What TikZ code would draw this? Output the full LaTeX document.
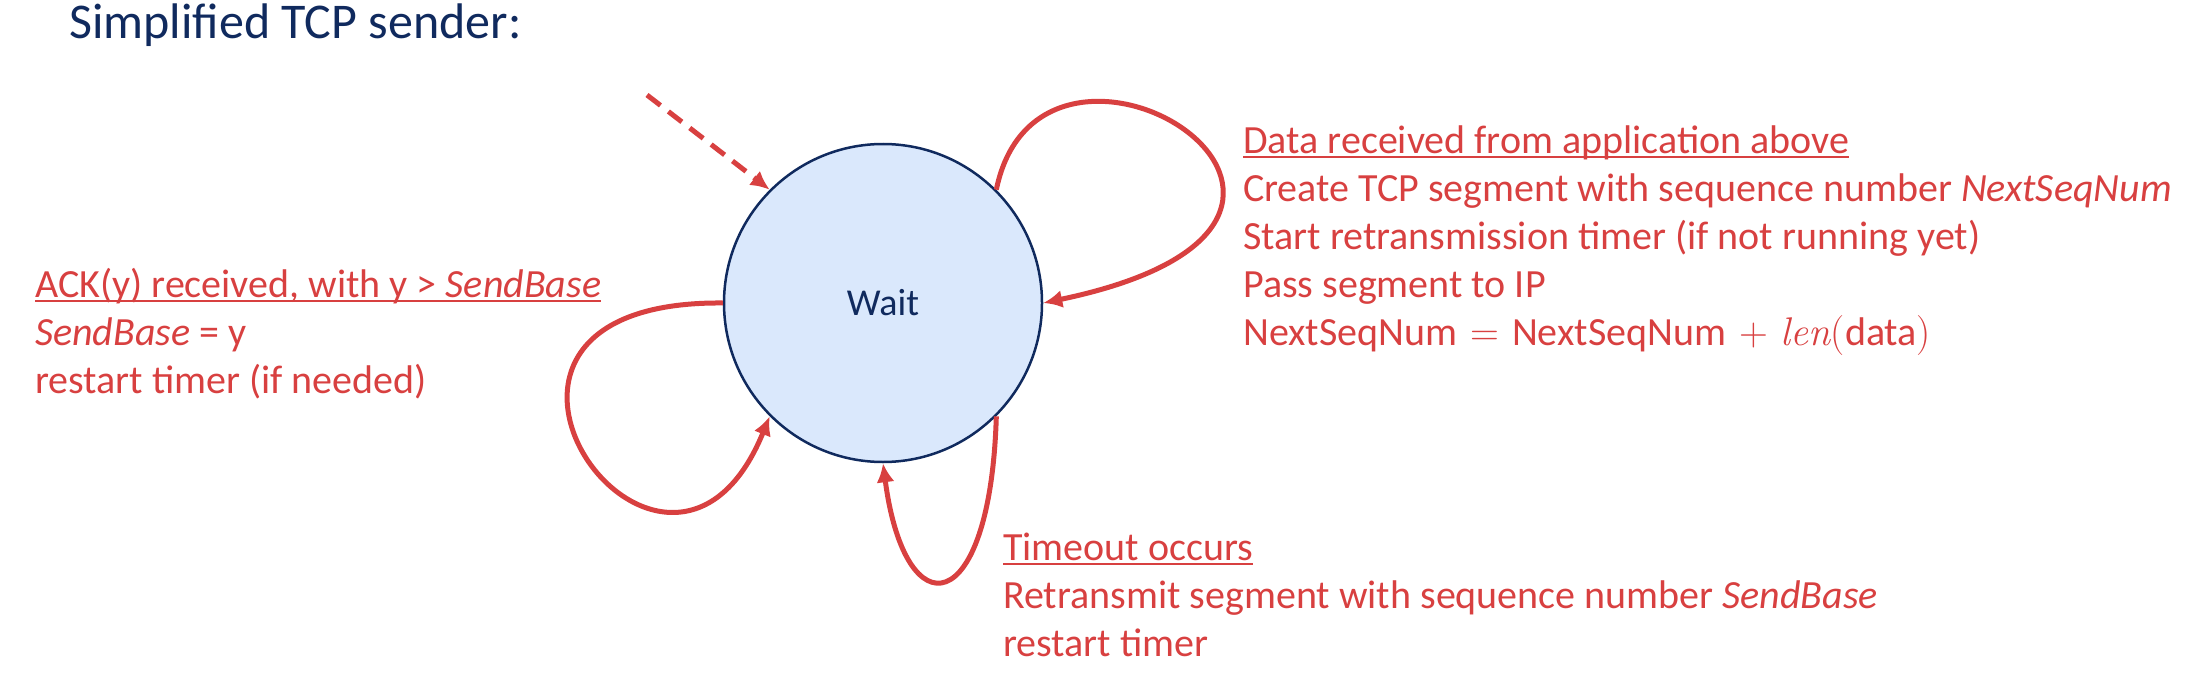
\documentclass[tikz,border=0pt]{standalone}
\usepackage{fontspec}
\setmainfont{Carlito}
\usetikzlibrary{arrows.meta}
\definecolor{fsmred}{RGB}{216,64,64}
\definecolor{navy}{RGB}{16,42,94}
\definecolor{statefill}{RGB}{218,232,252}
\newcommand\eqfont{\fontfamily{lmr}\selectfont}
\newcommand\guard[1]{\setbox0\hbox{#1}\rlap{\rule[-5pt]{\wd0}{2.4pt}}\box0}

\begin{document}
\begin{tikzpicture}[x=1pt, y=-1pt, >={Latex[length=19pt,width=18pt]},
    state/.style={circle, draw=navy, line width=2.5pt, fill=statefill,
      minimum size=318pt, inner sep=0pt, text=navy, font=\fontsize{38}{46}\selectfont},
    action/.style={anchor=base west, align=left, inner sep=0pt, text=fsmred,
      font=\fontsize{40}{48}\selectfont},
    trans/.style={->, fsmred, line width=5pt}]
  \useasboundingbox (0,0) rectangle (2202,674);
  \node (title) [anchor=base west, inner sep=0pt, text=navy,
    font=\fontsize{50}{60}\selectfont] at (69,39) {Simplified TCP sender:};

  \node[state] (wait) at (883,303) {Wait};
  \coordinate (init) at (647,95);

  % anchors sit on the baseline of the last line
  \node[action] (ack) at (35,393) {\guard{ACK(y) received, with y > \textit{SendBase}}\\
    \textit{SendBase} = y\\
    restart timer (if needed)};
  \node[action] (data) at (1243,345) {\guard{Data received from application above}\\
    Create TCP segment with sequence number \textit{NextSeqNum}\\
    Start retransmission timer (if not running yet)\\
    Pass segment to IP\\
    NextSeqNum\hspace{13pt}{\eqfont =}\hspace{13pt}NextSeqNum\hspace{13pt}{\eqfont +\hspace{13pt}\itshape len}{\eqfont (}data{\eqfont )}};
  \node[action] (timeout) at (1003,656) {\guard{Timeout occurs}\\
    Retransmit segment with sequence number \textit{SendBase}\\
    restart timer};

  \draw[trans, dash pattern=on 17pt off 10pt] (init) -- (wait.135);
  \draw[trans] (wait.45) .. controls +(45,-220) and +(398,-83) .. (wait.east);
  \draw[trans] (wait.west) .. controls +(-324,-3) and +(-104,255) .. (wait.225);
  \draw[trans] (wait.-45) .. controls +(-6,205) and +(22,168) .. (wait.south);
\end{tikzpicture}
\end{document}
